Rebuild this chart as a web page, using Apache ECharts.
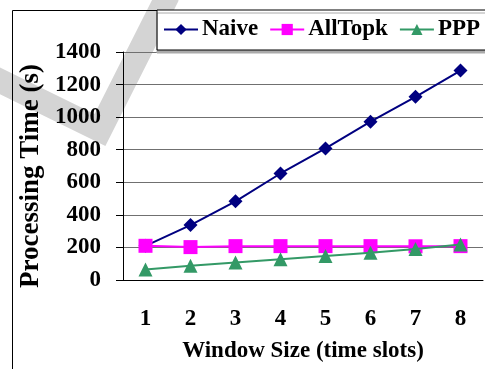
<!DOCTYPE html>
<html><head><meta charset="utf-8">
<script src="https://cdn.jsdelivr.net/npm/echarts@6/dist/echarts.min.js"></script>
<style>html,body{margin:0;padding:0;background:#fff}#wrap{position:relative;width:485px;height:369px}#wm{position:absolute;left:0;top:0;z-index:0}#c{position:absolute;left:0;top:0;width:485px;height:369px;z-index:1}</style>
</head><body><div id="wrap">
<svg id="wm" width="485" height="369"><polyline points="-10,76 100,130 168,-5" fill="none" stroke="#d4d4d4" stroke-width="24" stroke-linejoin="miter"/></svg>
<div id="c"></div></div>
<script>
const categories = ['1','2','3','4','5','6','7','8'];
const naive = [210, 337, 483, 654, 808, 972, 1125, 1286];
const allTopk = [210, 202, 208, 208, 208, 208, 207, 208];
const ppp = [65, 88, 108, 127, 147, 167, 190, 218];
const yTicks = {min: 0, max: 1400, interval: 200};

const font = 'Liberation Serif, Times New Roman, serif';
const chart = echarts.init(document.getElementById('c'));
chart.setOption({
  animation: false,
  backgroundColor: 'transparent',
  graphic: [
    {type: 'rect', z: 1, silent: true,
     shape: {x: 12.5, y: 10.5, width: 500, height: 400},
     style: {stroke: '#000', lineWidth: 1, fill: null}}
  ],
  legend: {
    left: 157, top: 10, width: 480, orient: 'horizontal',
    padding: [8, 40, 9, 6],
    itemWidth: 34, itemHeight: 14, itemGap: 11,
    backgroundColor: '#fff',
    borderColor: '#000', borderWidth: 1,
    shadowColor: '#aaa', shadowOffsetX: 0, shadowOffsetY: 3, shadowBlur: 0,
    textStyle: {fontFamily: font, fontWeight: 'bold', fontSize: 23, color: '#000', padding: [0,0,0,-1]},
    data: ['Naive', 'AllTopk', 'PPP']
  },
  grid: {left: 123, right: 2, top: 52, bottom: 89, containLabel: false},
  xAxis: {
    type: 'category', data: categories, boundaryGap: true,
    axisLine: {lineStyle: {color: '#000', width: 1}},
    axisTick: {inside: true, length: 8, lineStyle: {color: '#000'}},
    axisLabel: {fontFamily: font, fontWeight: 'bold', fontSize: 23, color: '#000', margin: 28},
    name: 'Window Size (time slots)', nameLocation: 'middle', nameGap: 60,
    nameTextStyle: {fontFamily: font, fontWeight: 'bold', fontSize: 23, color: '#000'}
  },
  yAxis: {
    type: 'value', min: yTicks.min, max: yTicks.max, interval: yTicks.interval,
    axisLine: {show: true, lineStyle: {color: '#000', width: 1}},
    axisTick: {show: true, inside: false, length: 7, lineStyle: {color: '#000'}},
    splitLine: {show: true, lineStyle: {color: '#707070', width: 1}},
    axisLabel: {fontFamily: font, fontWeight: 'bold', fontSize: 23, color: '#000', margin: 22,
      formatter: v => String(v)},
    name: 'Processing Time (s)', nameLocation: 'middle', nameGap: 71, nameRotate: 90,
    nameTextStyle: {fontFamily: font, fontWeight: 'bold', fontSize: 27, color: '#000', padding: [0, 20, 0, 0]}
  },
  series: [
    {name: 'Naive', type: 'line', data: naive, symbol: 'diamond', symbolSize: 14,
     itemStyle: {color: '#000080'}, lineStyle: {color: '#000080', width: 2}, z: 3},
    {name: 'AllTopk', type: 'line', data: allTopk, symbol: 'rect', symbolSize: 14,
     itemStyle: {color: '#ff00ff'}, lineStyle: {color: '#ff00ff', width: 2}, z: 4},
    {name: 'PPP', type: 'line', data: ppp, symbol: 'triangle', symbolSize: 14,
     itemStyle: {color: '#339966'}, lineStyle: {color: '#339966', width: 2}, z: 5}
  ]
});
</script></body></html>
